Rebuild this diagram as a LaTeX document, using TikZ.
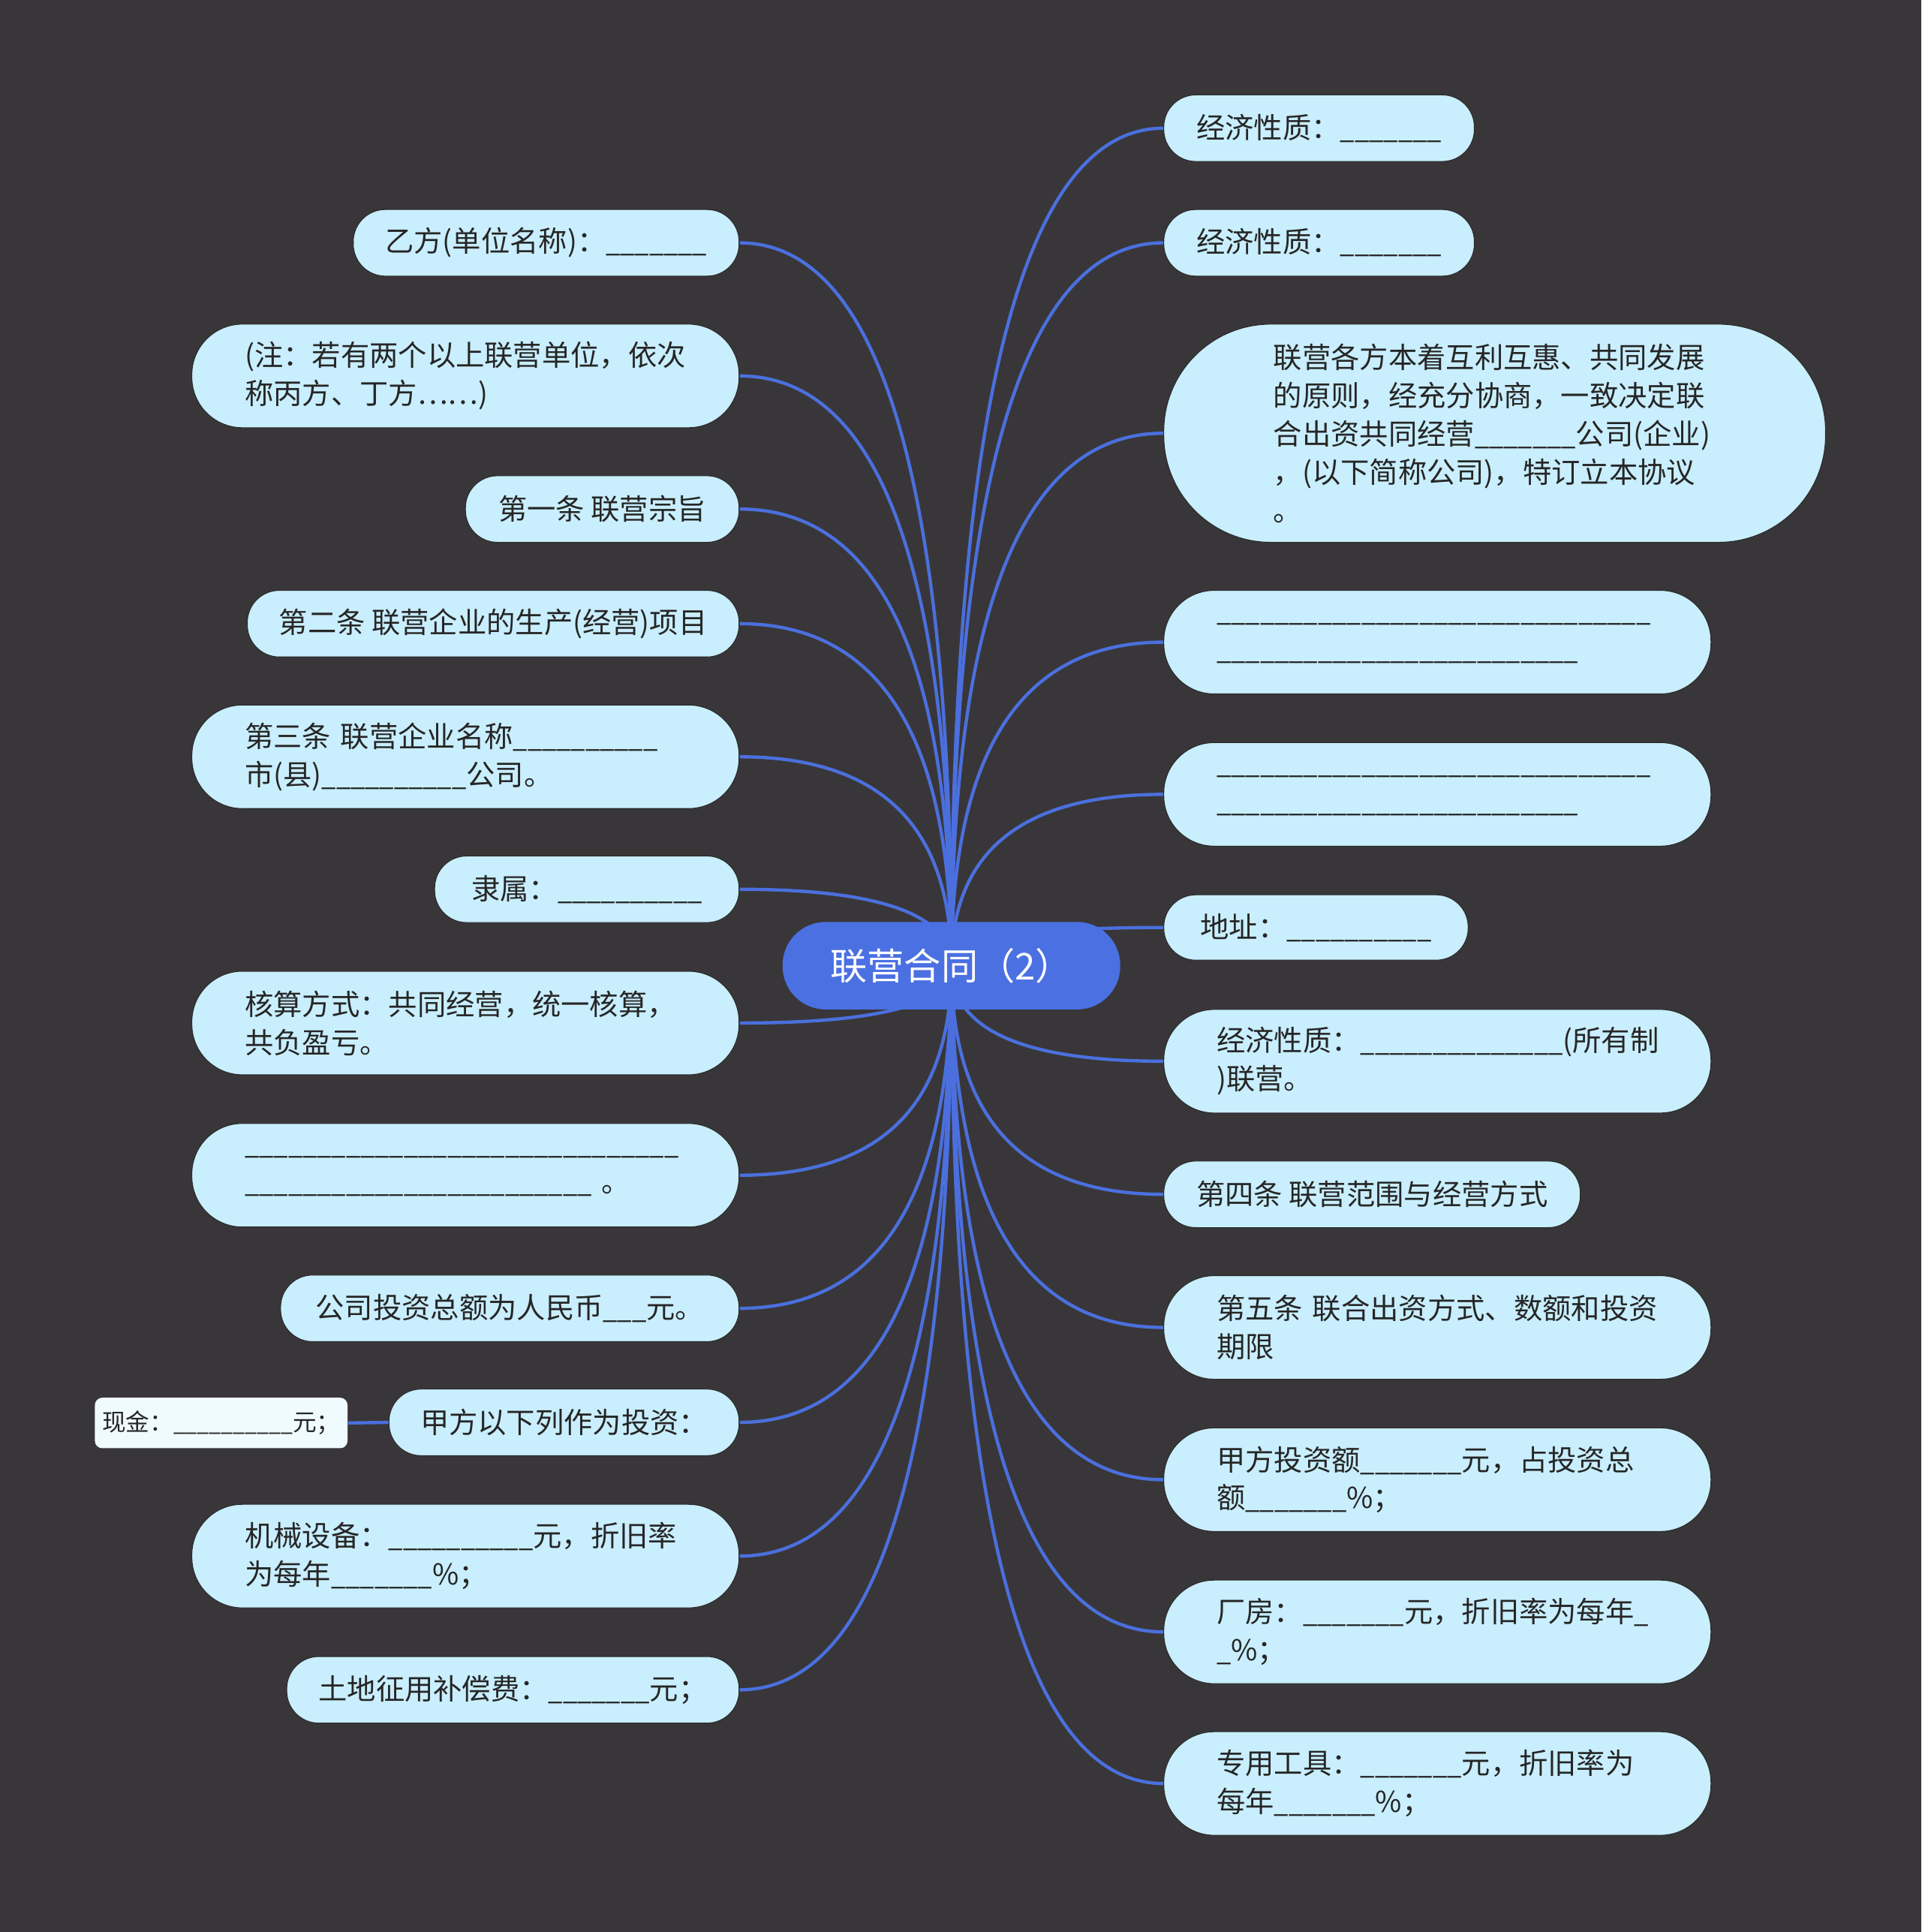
\documentclass[tikz,border=0pt]{standalone}
\usepackage{fontspec}
\setmainfont{Noto Sans CJK SC}
\newfontfamily\usfont[FakeStretch=0.9]{Noto Sans CJK SC}
\usetikzlibrary{calc}
\definecolor{bgc}{HTML}{383638}
\definecolor{leafc}{HTML}{C9EEFD}
\definecolor{linkc}{HTML}{4B6FDD}
\definecolor{rootc}{HTML}{4B70E2}
\definecolor{txtc}{HTML}{262626}
\definecolor{subc}{HTML}{F0FBFF}
\definecolor{edgec}{HTML}{2A2A2A}
\newcommand\pxu{0.16421mm}
\newcommand\blanksrec[1]{\ifnum#1>0 \_\expandafter\blanksrec\expandafter{\the\numexpr#1-1\relax}\fi}
\newcommand\blanks[1]{{\usfont\blanksrec{#1}}}
\pgfdeclarelayer{back}
\pgfdeclarelayer{links}
\pgfsetlayers{back,links,main}
\begin{document}
\begin{tikzpicture}[x=0.16421mm,y=-0.16421mm,
  leaf/.style={rectangle, fill=leafc, draw=edgec, line width=0.3pt, text=txtc, align=left, inner sep=0pt,
    font=\fontsize{10.9pt}{14.5pt}\selectfont, minimum height=54*\pxu, rounded corners=26*\pxu},
  two/.style={minimum height=84*\pxu, rounded corners=41*\pxu, minimum width=444*\pxu, text width=358*\pxu},
  rootnode/.style={rectangle, fill=rootc, text=white, inner sep=0pt, minimum width=274*\pxu,
    minimum height=71*\pxu, rounded corners=35*\pxu, font=\fontsize{14pt}{16pt}\selectfont},
  subnode/.style={rectangle, fill=subc, text=txtc, inner sep=0pt, minimum width=205*\pxu,
    minimum height=41*\pxu, rounded corners=6*\pxu, font=\fontsize{9pt}{11pt}\selectfont},
  link/.style={draw=linkc, line width=1.25pt}]
\begin{pgfonlayer}{back}
\fill[bgc] (0,0) rectangle (1559,1567.5);
\end{pgfonlayer}
\useasboundingbox (0,0) rectangle (1559,1567.5);

\node[rootnode] (root) at (772,783.5) {联营合同（2）};

% right side
\node[leaf, anchor=west, minimum width=252*\pxu] (R1) at (944,104) {经济性质：\blanks{7}};
\node[leaf, anchor=west, minimum width=252*\pxu] (R2) at (944,197) {经济性质：\blanks{7}};
\node[leaf, anchor=west, minimum width=537*\pxu, minimum height=177*\pxu, rounded corners=87*\pxu, text width=359*\pxu] (R3) at (944,351.5)
  {联营各方本着互利互惠、共同发展\\的原则，经充分协商，一致决定联\\合出资共同经营\blanks{7}公司(企业)\\，(以下简称公司)，特订立本协议\\。};
\node[leaf, two, anchor=west] (R4) at (944,521) {\blanks{30}\\\blanks{25}};
\node[leaf, two, anchor=west] (R5) at (944,644.5) {\blanks{30}\\\blanks{25}};
\node[leaf, anchor=west, minimum width=247*\pxu, minimum height=53*\pxu] (R6) at (944,752.5) {地址：\blanks{10}};
\node[leaf, two, anchor=west] (R7) at (944,861) {经济性质：\blanks{14}(所有制\\)联营。};
\node[leaf, anchor=west, minimum width=338*\pxu] (R8) at (944,969) {第四条 联营范围与经营方式};
\node[leaf, two, anchor=west] (R9) at (944,1077) {第五条~联合出资方式、数额和投资\\期限};
\node[leaf, two, anchor=west] (R10) at (944,1200.5) {甲方投资额\blanks{7}元，占投资总\\额\blanks{7}\%；};
\node[leaf, two, anchor=west] (R11) at (944,1324) {厂房：\blanks{7}元，折旧率为每年\blanks{1}\\\blanks{1}\%；};
\node[leaf, two, anchor=west] (R12) at (944,1447) {专用工具：\blanks{7}元，折旧率为\\每年\blanks{7}\%；};

% left side
\node[leaf, anchor=east, minimum width=313*\pxu] (L1) at (600,197) {乙方(单位名称)：\blanks{7}};
\node[leaf, two, anchor=east] (L2) at (600,305) {(注：若有两个以上联营单位，依次\\称丙方、丁方……)};
\node[leaf, anchor=east, minimum width=222*\pxu] (L3) at (600,413) {第一条 联营宗旨};
\node[leaf, anchor=east, minimum width=399*\pxu] (L4) at (600,506) {第二条 联营企业的生产(经营)项目};
\node[leaf, two, anchor=east] (L5) at (600,614) {第三条~联营企业名称\blanks{10}\\市(县)\blanks{10}公司。};
\node[leaf, anchor=east, minimum width=247*\pxu] (L6) at (600,721.5) {隶属：\blanks{10}};
\node[leaf, two, anchor=east] (L7) at (600,830) {核算方式：共同经营，统一核算，\\共负盈亏。};
\node[leaf, two, anchor=east] (L8) at (600,953.5) {\blanks{30}\\\blanks{24} 。};
\node[leaf, anchor=east, minimum width=372*\pxu] (L9) at (600,1061.5) {公司投资总额为人民币\blanks{3}元。};
\node[leaf, anchor=east, minimum width=284*\pxu] (L10) at (600,1154) {甲方以下列作为投资：};
\node[subnode] (L10a) at (179.5,1154.5) {现金：\blanks{10}元；};
\node[leaf, two, anchor=east] (L11) at (600,1262.5) {机械设备：\blanks{10}元，折旧率\\为每年\blanks{7}\%；};
\node[leaf, anchor=east, minimum width=367*\pxu] (L12) at (600,1371) {土地征用补偿费：\blanks{7}元；};

\begin{pgfonlayer}{links}
\foreach \n in {R1,R2,R3,R4,R5,R6,R7,R8,R9,R10,R11,R12}
  \draw[link] (root.center) .. controls ($(root.center)!0.6667!(root.center|-\n.west)$) and ($(\n.west)!0.6667!(root.center|-\n.west)$) .. (\n.west);
\foreach \n in {L1,L2,L3,L4,L5,L6,L7,L8,L9,L10,L11,L12}
  \draw[link] (root.center) .. controls ($(root.center)!0.6667!(root.center|-\n.east)$) and ($(\n.east)!0.6667!(root.center|-\n.east)$) .. (\n.east);
\draw[link] (L10.west) -- (L10a.east);
\end{pgfonlayer}
\end{tikzpicture}
\end{document}
